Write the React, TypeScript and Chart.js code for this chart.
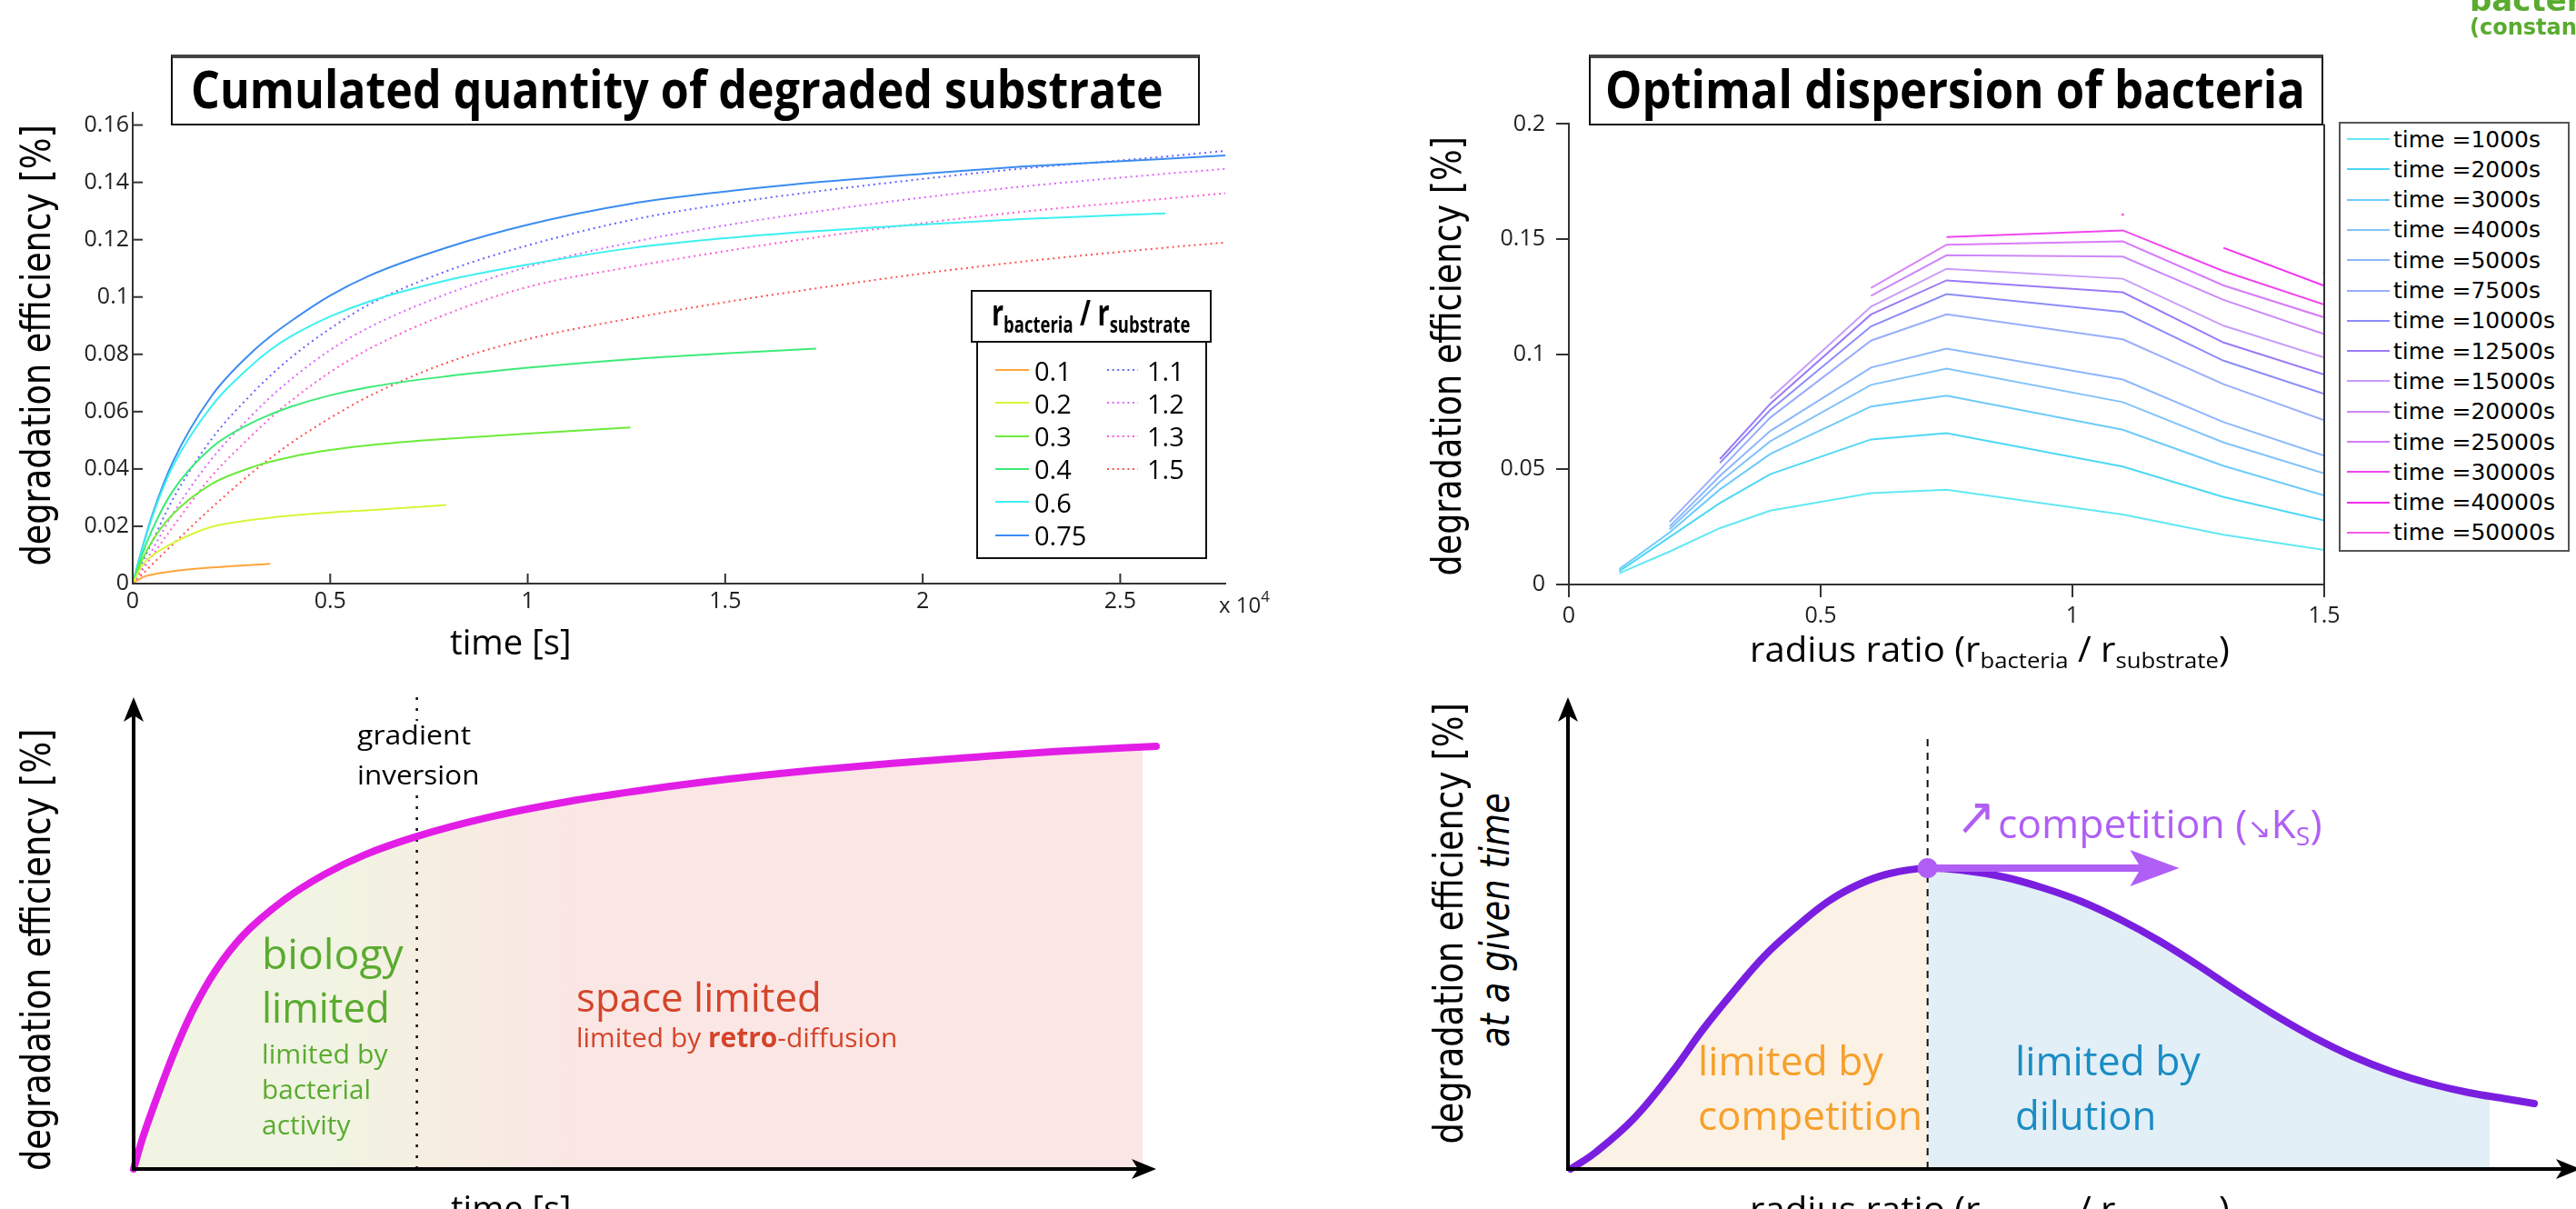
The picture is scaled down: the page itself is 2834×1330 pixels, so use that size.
import React, { useEffect, useLayoutEffect, useRef } from 'react';
import { Chart, registerables } from 'chart.js';
Chart.register(...registerables);

const OPEN = '"Open Sans", "Noto Sans", sans-serif';
const DEJA = '"DejaVu Sans", Verdana, sans-serif';
Chart.defaults.font.family = OPEN;

// ---------- top-left: cumulated degradation vs time ----------
const TIME = [0, 250, 500, 1000, 2000, 3000, 3480, 4000, 5000, 6000, 7940, 10000, 12600, 15000, 17300, 20000, 22500, 26140, 27660];
const TIME_TICKS = [0, 5000, 10000, 15000, 20000, 25000];
const EFF_TICKS = [0, 0.02, 0.04, 0.06, 0.08, 0.1, 0.12, 0.14, 0.16];
const RATIO_LABELS = ['0.1', '0.2', '0.3', '0.4', '0.6', '0.75', '1.1', '1.2', '1.3', '1.5'];
const R01 = [0, 0.0022, 0.0032, 0.0043, 0.0056, 0.0065, 0.0069];
const R02 = [0, 0.0065, 0.0098, 0.014, 0.0198, 0.0222, 0.023, 0.0237, 0.0248, 0.0256, 0.0274];
const R03 = [0, 0.0085, 0.015, 0.024, 0.0348, 0.0405, 0.0425, 0.0442, 0.0466, 0.0483, 0.0505, 0.0523, 0.0545];
const R04 = [0, 0.0105, 0.019, 0.032, 0.0475, 0.056, 0.059, 0.0617, 0.0657, 0.0686, 0.0723, 0.0753, 0.0783, 0.0803, 0.082];
const R06 = [0, 0.0125, 0.0235, 0.0405, 0.062, 0.076, 0.0815, 0.0862, 0.0932, 0.0985, 0.1058, 0.1113, 0.117, 0.1205, 0.123, 0.1253, 0.1272, 0.1292];
const R075 = [0, 0.0128, 0.0242, 0.042, 0.0655, 0.0805, 0.0862, 0.0915, 0.1005, 0.1075, 0.1172, 0.1252, 0.1325, 0.1368, 0.14, 0.143, 0.1455, 0.1482, 0.1494];
const R11 = [0, 0.0075, 0.0148, 0.029, 0.0505, 0.066, 0.0725, 0.0788, 0.089, 0.0975, 0.109, 0.118, 0.1268, 0.1325, 0.1368, 0.1412, 0.1448, 0.149, 0.151];
const R12 = [0, 0.0058, 0.0118, 0.024, 0.0435, 0.0585, 0.065, 0.0712, 0.0815, 0.0895, 0.101, 0.1105, 0.119, 0.125, 0.1298, 0.1347, 0.1385, 0.143, 0.1447];
const R13 = [0, 0.0048, 0.0098, 0.0195, 0.0375, 0.0515, 0.0577, 0.0637, 0.0738, 0.082, 0.094, 0.1035, 0.1105, 0.116, 0.1208, 0.1258, 0.1297, 0.1343, 0.1362];
const R15 = [0, 0.0033, 0.0068, 0.0135, 0.0265, 0.0385, 0.0437, 0.049, 0.0578, 0.0655, 0.077, 0.0853, 0.0925, 0.0982, 0.103, 0.1082, 0.1123, 0.1172, 0.119];
const RATIO_SERIES = [R01, R02, R03, R04, R06, R075, R11, R12, R13, R15];
const RATIO_COLORS = ['#ffa53c', '#d9f53a', '#6ceb3a', '#3ceb78', '#3cf0f0', '#3c8cf0', '#6464ff', '#dc64ff', '#ff5ad2', '#ff5050'];
const RATIO_DOTTED = [false, false, false, false, false, false, true, true, true, true];

// ---------- top-right: efficiency vs radius ratio ----------
const RADIUS = [0.1, 0.2, 0.3, 0.4, 0.6, 0.75, 1.1, 1.3, 1.5];
const RADIUS_TICKS = [0, 0.5, 1, 1.5];
const EFF2_TICKS = [0, 0.05, 0.1, 0.15, 0.2];
const SNAP_LABELS = ['time =1000s', 'time =2000s', 'time =3000s', 'time =4000s', 'time =5000s', 'time =7500s', 'time =10000s', 'time =12500s', 'time =15000s', 'time =20000s', 'time =25000s', 'time =30000s', 'time =40000s', 'time =50000s'];
const T1000 = [0.0049, 0.0143, 0.0245, 0.0321, 0.0397, 0.0412, 0.0304, 0.0216, 0.015];
const T2000 = [0.0058, 0.0206, 0.0354, 0.0479, 0.063, 0.0657, 0.0512, 0.038, 0.0278];
const T3000 = [0.0067, 0.0226, 0.0413, 0.0567, 0.0773, 0.082, 0.0672, 0.0515, 0.0387];
const T4000 = [null, 0.024, 0.0446, 0.0622, 0.0867, 0.0938, 0.0792, 0.0617, 0.0482];
const T5000 = [null, 0.0252, 0.0472, 0.0667, 0.0942, 0.1024, 0.089, 0.0705, 0.0559];
const T7500 = [null, 0.0272, 0.0499, 0.0725, 0.1059, 0.1173, 0.1065, 0.087, 0.0713];
const T10000 = [null, null, 0.0528, 0.0758, 0.1121, 0.1261, 0.1183, 0.0972, 0.0828];
const T12500 = [null, null, 0.0545, 0.0785, 0.1173, 0.1321, 0.1269, 0.1051, 0.0912];
const T15000 = [null, null, null, 0.0808, 0.1207, 0.1371, 0.1328, 0.1124, 0.0986];
const T20000 = [null, null, null, null, 0.1254, 0.143, 0.1424, 0.1236, 0.1087];
const T25000 = [null, null, null, null, 0.1288, 0.1476, 0.149, 0.1299, 0.116];
const T30000 = [null, null, null, null, null, 0.1509, 0.1538, 0.1361, 0.1216];
const T40000 = [null, null, null, null, null, null, null, 0.1462, 0.1298];
const T50000 = [null, null, null, null, null, null, 0.1607, null, 0.1354];
const SNAP_SERIES = [T1000, T2000, T3000, T4000, T5000, T7500, T10000, T12500, T15000, T20000, T25000, T30000, T40000, T50000];
const SNAP_COLORS = ['#62e8f2', '#4ed8f5', '#6ecbfa', '#82c3fa', '#8cb7fa', '#98aefa', '#8c8cfa', '#9c7af5', '#c89cfa', '#cc88fa', '#d87cfa', '#f046f0', '#f52ef0', '#f55ae8'];

// ---------- bottom-left: schematic vs time ----------
const SKETCH_T = [0, 0.8, 2.0, 3.2, 4.4, 6.0, 8.0, 10.7, 14.7, 18.7, 22.6, 27.7, 34.6, 42.5, 50.4, 58.4, 66.3, 74.2, 82.2, 90.1, 100];
const SKETCH_EFF = [0, 6.0, 13.5, 20.5, 27.0, 34.5, 42.0, 49.5, 57.0, 62.5, 66.6, 70.5, 74.5, 77.9, 80.5, 82.7, 84.5, 86.0, 87.3, 88.5, 89.6];
const SKETCH_FILL_END = { x: 98.7, y: 89.4 };
const GRADIENT_INVERSION_T = 27.7;
const GRADIENT_LINE_TOP = 100.7;

// ---------- bottom-right: schematic vs radius ratio ----------
const SKETCH_R = [3, 30, 73, 115, 149, 183, 217, 251, 286, 320, 354, 396, 439, 481, 524, 566, 609, 651, 694, 736, 779, 821, 864, 907, 949, 992, 1034, 1064];
const SKETCH_R_EFF = [0, 18, 56, 107, 154, 196, 235, 266, 294, 313, 325, 331, 328, 321, 309, 294, 274, 251, 224, 196, 169, 145, 124, 107, 94, 84, 77, 72];
const OPTIMUM = { x: 396, y: 331 };
const OPT_LINE_TOP = 473;
const DILUTION_FILL_END = { x: 1015, y: 80 };
const ARROW_END_X = 640;
const ARROW_TIP_X = 673;

// ---------- plugins ----------
const inTicks = {
  id: 'inTicks',
  afterDatasetsDraw(chart: any, _a: any, opts: any) {
    const { ctx, chartArea: ca, scales } = chart;
    const len = opts.len || 11;
    ctx.save();
    ctx.strokeStyle = '#333';
    ctx.lineWidth = 2;
    scales.x.ticks.forEach((t: any) => {
      const p = scales.x.getPixelForValue(t.value);
      ctx.beginPath(); ctx.moveTo(p, ca.bottom); ctx.lineTo(p, ca.bottom - len); ctx.stroke();
    });
    scales.y.ticks.forEach((t: any) => {
      const p = scales.y.getPixelForValue(t.value);
      ctx.beginPath(); ctx.moveTo(ca.left, p); ctx.lineTo(ca.left + len, p); ctx.stroke();
    });
    ctx.restore();
  },
};

const rightBorder = {
  id: 'rightBorder',
  afterDatasetsDraw(chart: any) {
    const { ctx, chartArea: ca } = chart;
    ctx.save();
    ctx.strokeStyle = '#333';
    ctx.lineWidth = 2;
    ctx.beginPath(); ctx.moveTo(ca.right, ca.bottom); ctx.lineTo(ca.right, ca.top); ctx.stroke();
    ctx.restore();
  },
};

function head(ctx: any, tx: number, ty: number, dx: number, dy: number, len: number, half: number, notch: number) {
  const bx = tx - dx * len, by = ty - dy * len;
  const nx = -dy, ny = dx;
  ctx.beginPath();
  ctx.moveTo(tx, ty);
  ctx.lineTo(bx + nx * half, by + ny * half);
  ctx.lineTo(tx - dx * (len - notch), ty - dy * (len - notch));
  ctx.lineTo(bx - nx * half, by - ny * half);
  ctx.closePath();
  ctx.fill();
}

const sketchAxes = {
  id: 'sketchAxes',
  afterDatasetsDraw(chart: any, _a: any, opts: any) {
    const { ctx, chartArea: ca, scales } = chart;
    ctx.save();
    ctx.strokeStyle = '#000';
    ctx.fillStyle = '#000';
    ctx.lineWidth = 4;
    ctx.beginPath(); ctx.moveTo(ca.left, ca.bottom + 2); ctx.lineTo(ca.left, ca.top + 16); ctx.stroke();
    head(ctx, ca.left, ca.top, 0, -1, 27, 11, 7);
    ctx.beginPath(); ctx.moveTo(ca.left - 2, ca.bottom); ctx.lineTo(ca.right - 16, ca.bottom); ctx.stroke();
    head(ctx, ca.right, ca.bottom, 1, 0, 27, 11, 7);
    if (opts.arrow) {
      const meta = chart.getDatasetMeta(opts.arrow.index);
      const last = meta.data[meta.data.length - 1];
      const tip = scales.x.getPixelForValue(opts.arrow.tip);
      ctx.fillStyle = opts.arrow.color;
      head(ctx, tip, last.y, 1, 0, 54, 20, 12);
    }
    ctx.restore();
  },
};

// ---------- configs ----------
const axisFont = { family: OPEN, size: 25 };
const fmt = (v: number) => String(parseFloat(Number(v).toFixed(4)));
const fixedTicks = (vals: number[]) => (s: any) => { s.ticks = vals.map((v) => ({ value: v })); };

function topLeftConfig(): any {
  return {
    type: 'line',
    data: {
      datasets: RATIO_SERIES.map((vals, i) => ({
        label: RATIO_LABELS[i],
        data: vals.map((v, j) => ({ x: TIME[j], y: v })),
        borderColor: RATIO_COLORS[i],
        borderWidth: 2,
        borderDash: RATIO_DOTTED[i] ? [2, 4] : [],
        pointRadius: 0,
        cubicInterpolationMode: 'monotone',
        fill: false,
      })),
    },
    options: {
      animation: false, responsive: false, devicePixelRatio: 1,
      layout: { padding: { left: 0, top: 124, right: 72, bottom: 38 } },
      plugins: { legend: { display: false }, tooltip: { enabled: false }, inTicks: { len: 11 } },
      scales: {
        x: {
          type: 'linear', min: 0, max: 27660,
          afterBuildTicks: fixedTicks(TIME_TICKS),
          afterFit: (s: any) => { s.height = 40; },
          grid: { display: false, drawTicks: false },
          border: { display: true, color: '#333', width: 2 },
          ticks: { padding: 5, font: axisFont, color: '#222', maxRotation: 0, autoSkip: false, callback: (v: any) => fmt(v / 1e4) },
        },
        y: {
          type: 'linear', min: 0, max: 0.1643,
          afterBuildTicks: fixedTicks(EFF_TICKS),
          afterFit: (s: any) => { s.width = 146; },
          grid: { display: false, drawTicks: false },
          border: { display: true, color: '#333', width: 2 },
          ticks: { padding: 4, font: axisFont, color: '#222', autoSkip: false, callback: (v: any) => fmt(v) },
        },
      },
    },
    plugins: [inTicks],
  };
}

function topRightConfig(): any {
  const gridOut = { display: true, drawOnChartArea: false, drawTicks: true, tickLength: 14, color: '#333', lineWidth: 2 };
  return {
    type: 'line',
    data: {
      datasets: SNAP_SERIES.map((vals, i) => ({
        label: SNAP_LABELS[i],
        data: RADIUS.map((r, j) => ({ x: r, y: vals[j] })),
        borderColor: SNAP_COLORS[i],
        backgroundColor: SNAP_COLORS[i],
        borderWidth: 2,
        pointRadius: i === SNAP_SERIES.length - 1 ? 1.5 : 0,
        pointBorderWidth: 0,
        spanGaps: false,
        fill: false,
      })),
    },
    options: {
      animation: false, responsive: false, devicePixelRatio: 1,
      layout: { padding: { left: 0, top: 136.4, right: 277, bottom: 47 } },
      plugins: { legend: { display: false }, tooltip: { enabled: false } },
      scales: {
        x: {
          type: 'linear', min: 0, max: 1.5,
          afterBuildTicks: fixedTicks(RADIUS_TICKS),
          afterFit: (s: any) => { s.height = 50; },
          grid: gridOut,
          border: { display: true, color: '#333', width: 2 },
          ticks: { padding: 6, font: axisFont, color: '#222', maxRotation: 0, autoSkip: false, callback: (v: any) => fmt(v) },
        },
        y: {
          type: 'linear', min: 0, max: 0.2,
          afterBuildTicks: fixedTicks(EFF2_TICKS),
          afterFit: (s: any) => { s.width = 186; },
          grid: gridOut,
          border: { display: true, color: '#333', width: 2 },
          ticks: { padding: 12, font: axisFont, color: '#222', autoSkip: false, callback: (v: any) => fmt(v) },
        },
      },
    },
    plugins: [rightBorder],
  };
}

function bottomLeftConfig(): any {
  const curve = SKETCH_T.map((t, i) => ({ x: t, y: SKETCH_EFF[i] }));
  const fillPts = curve.filter((p) => p.x < SKETCH_FILL_END.x).concat([SKETCH_FILL_END]);
  return {
    type: 'line',
    data: {
      datasets: [
        { data: curve, borderColor: '#e21ee6', borderWidth: 8, borderCapStyle: 'round', pointRadius: 0, cubicInterpolationMode: 'monotone', fill: false, clip: false, order: 1 },
        { data: [{ x: GRADIENT_INVERSION_T, y: 0 }, { x: GRADIENT_INVERSION_T, y: GRADIENT_LINE_TOP }], borderColor: '#111', borderWidth: 2.5, borderDash: [3, 9], pointRadius: 0, fill: false, clip: false, order: 2 },
        {
          data: fillPts, borderWidth: 0, pointRadius: 0, cubicInterpolationMode: 'monotone', fill: 'origin', order: 3,
          backgroundColor: (c: any) => {
            const ch = c.chart; const ca = ch.chartArea;
            if (!ca) return '#f1f4e2';
            const g = ch.ctx.createLinearGradient(ca.left, 0, ca.right, 0);
            g.addColorStop(0, '#f1f4e2'); g.addColorStop(0.2, '#f1f4e2'); g.addColorStop(0.28, '#f5efe1');
            g.addColorStop(0.42, '#fae7e4'); g.addColorStop(1, '#fbe6e5');
            return g;
          },
        },
      ],
    },
    options: {
      animation: false, responsive: false, devicePixelRatio: 1,
      layout: { padding: { left: 27, top: 27, right: 28, bottom: 24 } },
      plugins: { legend: { display: false }, tooltip: { enabled: false }, sketchAxes: {} },
      scales: { x: { type: 'linear', min: 0, max: 100, display: false }, y: { min: 0, max: 100, display: false } },
    },
    plugins: [sketchAxes],
  };
}

function bottomRightConfig(): any {
  const curve = SKETCH_R.map((r, i) => ({ x: r, y: SKETCH_R_EFF[i] }));
  const left = curve.filter((p) => p.x <= OPTIMUM.x);
  const right = curve.filter((p) => p.x >= OPTIMUM.x && p.x < DILUTION_FILL_END.x).concat([DILUTION_FILL_END]);
  const lilac = '#b05ff5';
  return {
    type: 'line',
    data: {
      datasets: [
        { data: curve, borderColor: '#7a1fe0', borderWidth: 8, borderCapStyle: 'round', pointRadius: 0, tension: 0.4, fill: false, clip: false, order: 1 },
        { data: [OPTIMUM, { x: ARROW_END_X, y: OPTIMUM.y }], borderColor: lilac, borderWidth: 8, pointRadius: 0, fill: false, clip: false, order: 0 },
        { data: [OPTIMUM], showLine: false, pointRadius: 11, pointBackgroundColor: lilac, pointBorderWidth: 0, clip: false, order: 0 },
        { data: [{ x: OPTIMUM.x, y: 0 }, { x: OPTIMUM.x, y: OPT_LINE_TOP }], borderColor: '#111', borderWidth: 2, borderDash: [8, 7], pointRadius: 0, fill: false, clip: false, order: 2 },
        { data: left, borderWidth: 0, pointRadius: 0, tension: 0.4, fill: 'origin', backgroundColor: '#fbf1e4', order: 3 },
        { data: right, borderWidth: 0, pointRadius: 0, tension: 0.4, fill: 'origin', backgroundColor: '#e2eff6', order: 3 },
      ],
    },
    options: {
      animation: false, responsive: false, devicePixelRatio: 1,
      layout: { padding: { left: 25, top: 27, right: 10, bottom: 24 } },
      plugins: { legend: { display: false }, tooltip: { enabled: false }, sketchAxes: { arrow: { index: 1, tip: ARROW_TIP_X, color: lilac } } },
      scales: { x: { type: 'linear', min: 0, max: 1115, display: false }, y: { min: 0, max: 519, display: false } },
    },
    plugins: [sketchAxes],
  };
}

// ---------- components ----------
function ChartBox({ left, top, width, height, build }: any) {
  const ref = useRef<HTMLCanvasElement>(null);
  useEffect(() => {
    const chart = new Chart(ref.current as HTMLCanvasElement, build());
    return () => chart.destroy();
  }, []);
  return <canvas ref={ref} width={width} height={height} style={{ position: 'absolute', left, top, width, height }} />;
}

type TxtProps = { x: number; y: number; w?: number; size: number; color?: string; font?: string; weight?: number; italic?: boolean; rot?: boolean; bg?: string; children: React.ReactNode };
function Txt({ x, y, w, size, color = '#000', font = OPEN, weight = 400, italic = false, rot = false, bg, children }: TxtProps) {
  const ref = useRef<HTMLSpanElement>(null);
  useLayoutEffect(() => {
    const el = ref.current;
    if (!el || !w) return;
    const fit = () => { const n = el.offsetWidth; if (n > 0) el.style.transform = `scaleX(${w / n})`; };
    fit();
    const f: any = (document as any).fonts;
    if (f && f.ready) f.ready.then(fit);
  }, [w]);
  const inner = (
    <span ref={ref} style={{ display: 'inline-block', whiteSpace: 'nowrap', transformOrigin: '0 50%', fontSize: size, lineHeight: 1, color, fontFamily: font, fontWeight: weight, fontStyle: italic ? 'italic' : 'normal' }}>{children}</span>
  );
  if (rot) {
    return <div style={{ position: 'absolute', left: x, top: y, width: w, height: size, display: 'flex', alignItems: 'center', transform: 'translate(-50%, -50%) rotate(-90deg)' }}>{inner}</div>;
  }
  return <div style={{ position: 'absolute', left: x, top: y - size / 2, height: size, display: 'flex', alignItems: 'center', background: bg }}>{inner}</div>;
}

const SUB: React.CSSProperties = { fontSize: '0.64em', verticalAlign: '-0.3em' };

function TitleBox({ left, width, text, textLeft, textW }: any) {
  return (
    <>
      <div style={{ position: 'absolute', left, top: 60, width, height: 78, boxSizing: 'border-box', border: '2px solid #111', borderTop: '4px solid #444', background: '#fff' }} />
      <Txt x={textLeft} y={97} w={textW} size={57} weight={700}>{text}</Txt>
    </>
  );
}

function LegendLine({ x, y, w, color, dotted }: any) {
  return (
    <svg style={{ position: 'absolute', left: x, top: y - 2 }} width={w} height={4}>
      <line x1={0} y1={2} x2={w} y2={2} stroke={color} strokeWidth={2.2} strokeDasharray={dotted ? '2 3.6' : undefined} />
    </svg>
  );
}

export default function App() {
  useLayoutEffect(() => {
    document.body.style.margin = '0';
    document.body.style.overflow = 'hidden';
  }, []);
  return (
    <div style={{ position: 'relative', width: 2834, height: 1330, overflow: 'hidden', background: '#fff', fontFamily: OPEN }}>
      <ChartBox left={0} top={0} width={1420} height={720} build={topLeftConfig} />
      <ChartBox left={1540} top={0} width={1294} height={740} build={topRightConfig} />
      <ChartBox left={120} top={740} width={1180} height={570} build={bottomLeftConfig} />
      <ChartBox left={1700} top={740} width={1150} height={570} build={bottomRightConfig} />

      {/* corner text */}
      <Txt x={2717} y={0} size={34} weight={700} font={DEJA} color="#5aab30">bacteria</Txt>
      <Txt x={2717} y={30} size={24} weight={700} font={DEJA} color="#5aab30">(constant)</Txt>

      {/* titles */}
      <TitleBox left={188} width={1132} text="Cumulated quantity of degraded substrate" textLeft={210} textW={1070} />
      <TitleBox left={1748} width={808} text="Optimal dispersion of bacteria" textLeft={1766} textW={770} />

      {/* top-left labels */}
      <Txt x={40} y={380} w={485} size={44} font={DEJA} rot>degradation efficiency [%]</Txt>
      <Txt x={495} y={705} w={134} size={38}>time [s]</Txt>
      <Txt x={1341} y={662} size={24} color="#222">x 10<span style={{ fontSize: '0.7em', verticalAlign: '0.7em' }}>4</span></Txt>

      {/* top-left legend */}
      <div style={{ position: 'absolute', left: 1068, top: 319, width: 265, height: 58, boxSizing: 'border-box', border: '2px solid #111', background: '#fff' }} />
      <div style={{ position: 'absolute', left: 1074, top: 375, width: 254, height: 240, boxSizing: 'border-box', border: '2px solid #111', background: '#fff' }} />
      <Txt x={1091} y={346} w={218} size={40} weight={700}>r<span style={SUB}>bacteria</span> / r<span style={SUB}>substrate</span></Txt>
      {RATIO_LABELS.map((lab, i) => {
        const col = i < 6 ? 0 : 1;
        const row = i < 6 ? i : i - 6;
        const y = 407 + row * 36.3;
        return (
          <React.Fragment key={lab}>
            <LegendLine x={col ? 1218 : 1095} y={y} w={col ? 34 : 37} color={RATIO_COLORS[i]} dotted={RATIO_DOTTED[i]} />
            <Txt x={col ? 1262 : 1138} y={y} size={29}>{lab}</Txt>
          </React.Fragment>
        );
      })}

      {/* top-right labels */}
      <Txt x={1592} y={392} w={483} size={44} font={DEJA} rot>degradation efficiency [%]</Txt>
      <Txt x={1925} y={716} w={528} size={38}>radius ratio (r<span style={SUB}>bacteria</span> / r<span style={SUB}>substrate</span>)</Txt>

      {/* top-right legend */}
      <div style={{ position: 'absolute', left: 2573, top: 134, width: 254, height: 473, boxSizing: 'border-box', border: '2px solid #555', background: '#fff' }} />
      {SNAP_LABELS.map((lab, i) => {
        const y = 153 + i * 33.3;
        return (
          <React.Fragment key={lab}>
            <div style={{ position: 'absolute', left: 2582, top: y - 1, width: 47, height: 2, background: SNAP_COLORS[i] }} />
            <Txt x={2633} y={y} size={25} font={DEJA}>{lab}</Txt>
          </React.Fragment>
        );
      })}

      {/* bottom-left annotations */}
      <Txt x={40} y={1045} w={486} size={44} font={DEJA} rot>degradation efficiency [%]</Txt>
      <div style={{ position: 'absolute', left: 386, top: 793, width: 148, height: 80, background: '#fff' }} />
      <Txt x={393} y={808} w={125} size={30}>gradient</Txt>
      <Txt x={393} y={852} w={134} size={30}>inversion</Txt>
      <Txt x={288} y={1048} w={156} size={46} color="#5aab30">biology</Txt>
      <Txt x={288} y={1107} w={141} size={46} color="#5aab30">limited</Txt>
      <Txt x={288} y={1159} w={139} size={30} color="#5aab30">limited by</Txt>
      <Txt x={288} y={1198} w={120} size={30} color="#5aab30">bacterial</Txt>
      <Txt x={288} y={1237} w={98} size={30} color="#5aab30">activity</Txt>
      <Txt x={634} y={1096} w={270} size={44} color="#d4442a">space limited</Txt>
      <Txt x={634} y={1141} w={353} size={30} color="#d4442a">limited by <b>retro</b>-diffusion</Txt>
      <Txt x={496} y={1328} w={133} size={38}>time [s]</Txt>

      {/* bottom-right annotations */}
      <Txt x={1594} y={1016} w={485} size={44} font={DEJA} rot>degradation efficiency [%]</Txt>
      <Txt x={1645} y={1012} w={280} size={44} font={DEJA} italic rot>at a given time</Txt>
      <Txt x={2152} y={898} w={44} size={58} font={DEJA} color="#b05ff5">↗</Txt>
      <Txt x={2198} y={908} w={357} size={44} color="#b05ff5">competition (<span style={{ fontFamily: DEJA, fontSize: '0.7em' }}>↘</span>K<span style={SUB}>S</span>)</Txt>
      <Txt x={1868} y={1166} w={204} size={44} color="#f6a02c">limited by</Txt>
      <Txt x={1868} y={1226} w={247} size={44} color="#f6a02c">competition</Txt>
      <Txt x={2217} y={1166} w={204} size={44} color="#1a8cc4">limited by</Txt>
      <Txt x={2217} y={1226} w={155} size={44} color="#1a8cc4">dilution</Txt>
      <Txt x={1925} y={1332} w={528} size={38}>radius ratio (r<span style={SUB}>bacteria</span> / r<span style={SUB}>substrate</span>)</Txt>
    </div>
  );
}
